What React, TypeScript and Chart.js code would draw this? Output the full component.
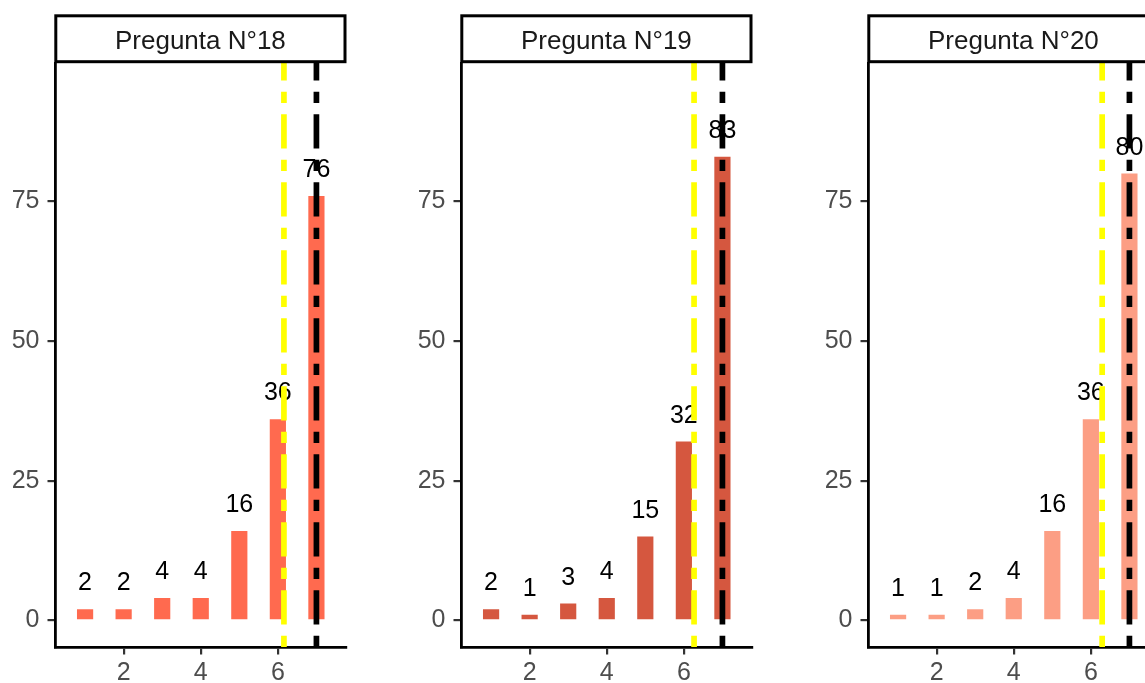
import React, { useEffect, useRef } from "react";
import { Chart, registerables } from "chart.js";

Chart.register(...registerables);
Chart.defaults.font.family = '"Liberation Sans", Arial, sans-serif';

const categories = [1, 2, 3, 4, 5, 6, 7];
const panelTitles = ["Pregunta N°18", "Pregunta N°19", "Pregunta N°20"];
const counts18 = [2, 2, 4, 4, 16, 36, 76];
const counts19 = [2, 1, 3, 4, 15, 32, 83];
const counts20 = [1, 1, 2, 4, 16, 36, 80];
const panelCounts = [counts18, counts19, counts20];
const barColors = ["#FF6A4F", "#D5573F", "#FC9E84"];
const xTicks = [2, 4, 6];
const yTicks = [0, 25, 50, 75];
const xMin = 0.22;
const xMax = 7.78;
const yMin = -4.78;
const yMax = 99.8;
const labelNudge = 5;

function weightedMean(cats: number[], w: number[]) {
  let s = 0, n = 0;
  cats.forEach((c, i) => { s += c * w[i]; n += w[i]; });
  return s / n;
}
function weightedMedian(cats: number[], w: number[]) {
  const n = w.reduce((a, b) => a + b, 0);
  const half = n / 2;
  let acc = 0;
  for (let i = 0; i < cats.length; i++) {
    acc += w[i];
    if (acc > half) return cats[i];
  }
  return cats[cats.length - 1];
}

const FONT = '"Liberation Sans", Arial, sans-serif';
const DASH = [11.3, 11.3, 34.1, 11.3];

function Panel({ idx }: { idx: number }) {
  const ref = useRef<HTMLCanvasElement | null>(null);
  useEffect(() => {
    const counts = panelCounts[idx];
    const mean = weightedMean(categories, counts);
    const median = weightedMedian(categories, counts);
    const title = panelTitles[idx];
    const overlay = {
      id: "overlay" + idx,
      afterDatasetsDraw(chart: any) {
        const { ctx, chartArea, scales } = chart;
        const x = scales.x, y = scales.y;
        ctx.save();
        ctx.font = "25px " + FONT;
        ctx.fillStyle = "#000000";
        ctx.textAlign = "center";
        ctx.textBaseline = "alphabetic";
        categories.forEach((c, i) => {
          const v = counts[i];
          ctx.fillText(String(v), x.getPixelForValue(c), y.getPixelForValue(v + labelNudge) + 9);
        });
        const lines: [number, string][] = [[mean, "#FFFF00"], [median, "#000000"]];
        lines.forEach(([val, col]) => {
          const px = x.getPixelForValue(val);
          ctx.beginPath();
          ctx.setLineDash(DASH);
          ctx.lineDashOffset = 0;
          ctx.lineCap = "butt";
          ctx.lineWidth = 5.7;
          ctx.strokeStyle = col;
          ctx.moveTo(px, chartArea.bottom);
          ctx.lineTo(px, chartArea.top);
          ctx.stroke();
        });
        ctx.restore();
      },
      afterDraw(chart: any) {
        const { ctx, chartArea } = chart;
        ctx.save();
        const l = chartArea.left + 0.8, r = chartArea.right - 1.5;
        const t = 15.8, b = 61.7;
        ctx.fillStyle = "#FFFFFF";
        ctx.fillRect(l, t, r - l, b - t);
        ctx.lineWidth = 3;
        ctx.strokeStyle = "#000000";
        ctx.setLineDash([]);
        ctx.strokeRect(l, t, r - l, b - t);
        ctx.fillStyle = "#1A1A1A";
        ctx.font = "26px " + FONT;
        ctx.textAlign = "center";
        ctx.textBaseline = "alphabetic";
        ctx.fillText(title, (l + r) / 2, 49.3);
        ctx.restore();
      },
    };
    const axisCommon = {
      type: "linear" as const,
      offset: false,
      grid: {
        display: true,
        drawOnChartArea: false,
        drawTicks: true,
        tickLength: 7.5,
        color: "#333333",
        lineWidth: 2.2,
        offset: false,
      },
      border: { display: true, color: "#000000", width: 2.8 },
    };
    const chart = new Chart(ref.current as HTMLCanvasElement, {
      type: "bar",
      data: {
        datasets: [
          {
            data: categories.map((c, i) => ({ x: c, y: counts[i] })),
            backgroundColor: barColors[idx],
            borderWidth: 0,
            barPercentage: 0.42,
            categoryPercentage: 1,
          } as any,
        ],
      },
      options: {
        responsive: false,
        animation: false,
        devicePixelRatio: 1,
        layout: { padding: { top: 63, right: 59.5, left: 0, bottom: 0 } },
        plugins: { legend: { display: false }, tooltip: { enabled: false } },
        scales: {
          x: {
            ...axisCommon,
            min: xMin,
            max: xMax,
            afterBuildTicks: (ax: any) => { ax.ticks = xTicks.map((v) => ({ value: v })); },
            afterFit: (ax: any) => { ax.height = 36; },
            ticks: { color: "#4D4D4D", font: { size: 25 }, padding: 4, maxRotation: 0, autoSkip: false },
          },
          y: {
            ...axisCommon,
            min: yMin,
            max: yMax,
            afterBuildTicks: (ax: any) => { ax.ticks = yTicks.map((v) => ({ value: v })); },
            afterFit: (ax: any) => { ax.width = 55; },
            ticks: { color: "#4D4D4D", font: { size: 25 }, padding: 8 },
          },
        } as any,
      },
      plugins: [overlay],
    });
    return () => chart.destroy();
  }, [idx]);
  return (
    <canvas
      ref={ref}
      width={406}
      height={683}
      style={{ position: "absolute", left: [0, 406, 813][idx], top: 0, width: 406, height: 683 }}
    />
  );
}

export default function App() {
  return (
    <div
      style={{
        position: "absolute",
        left: 0,
        top: 0,
        width: 1145,
        height: 683,
        overflow: "hidden",
        background: "#FFFFFF",
      }}
    >
      {[0, 1, 2].map((i) => (
        <Panel key={i} idx={i} />
      ))}
    </div>
  );
}
